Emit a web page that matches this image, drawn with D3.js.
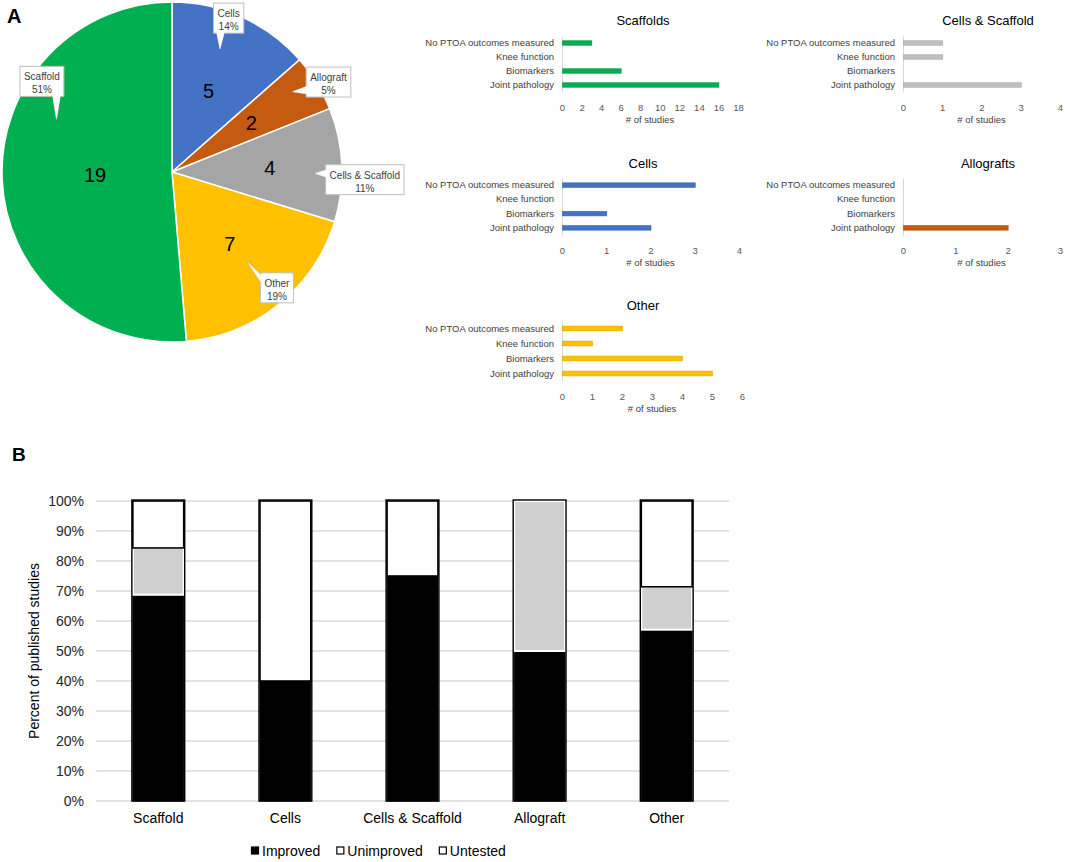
<!DOCTYPE html>
<html>
<head>
<meta charset="utf-8">
<script src="https://cdn.jsdelivr.net/npm/d3@7"></script>
<style>
  body { margin: 0; background: #fff; }
  svg { font-family: Arial, "Liberation Sans", sans-serif; }
</style>
</head>
<body>
<svg id="fig" width="1065" height="862"></svg>
<script>
// ------------------------------
// data
// ------------------------------
var pieCats = ["Cells", "Allograft", "Cells & Scaffold", "Other", "Scaffold"];
var pieCounts = [5, 2, 4, 7, 19];
var pieColors = ["#4472C4", "#C55A11", "#A5A5A5", "#FFC000", "#00B050"];

var outcomeCats = ["No PTOA outcomes measured", "Knee function", "Biomarkers", "Joint pathology"];
var scaffoldsCounts = [3, 0, 6, 16];
var cellsScaffoldCounts = [1, 1, 0, 3];
var cellsCounts = [3, 0, 1, 2];
var allograftCounts = [0, 0, 0, 2];
var otherCounts = [2, 1, 4, 5];

var groups = ["Scaffold", "Cells", "Cells & Scaffold", "Allograft", "Other"];
var improvedPct = [68.75, 40, 75, 50, 57.1];
var unimprovedPct = [15.6, 0, 0, 50, 14.3];
var untestedPct = [15.65, 60, 25, 0, 28.6];
var legendKeys = ["Improved", "Unimproved", "Untested"];

var svg = d3.select("#fig");

// panel letters
svg.append("text").attr("x", 7).attr("y", 23).attr("font-size", 20).attr("font-weight", "bold").text("A");
svg.append("text").attr("x", 12).attr("y", 461).attr("font-size", 19).attr("font-weight", "bold").text("B");

// ==============================
// Pie chart
// ==============================
var cx = 172, cy = 172, radius = 170;
var pieG = svg.append("g").attr("transform", `translate(${cx}, ${cy})`);

var pie = d3.pie().sort(null).value(d => d.value);
var pieData = pie(pieCats.map((c, i) => ({ name: c, value: pieCounts[i], color: pieColors[i] })));
var total = d3.sum(pieCounts);

var arc = d3.arc().innerRadius(0).outerRadius(radius);

pieG.selectAll("path.slice")
  .data(pieData)
  .enter()
  .append("path")
  .attr("class", "slice")
  .attr("d", arc)
  .attr("fill", d => d.data.color)
  .attr("stroke", "#fff")
  .attr("stroke-width", 1.5);

// placement of the labels (degrees offset from slice mid angle, distances from centre)
var calloutLayout = [
  { lr: 89, da: -4, br: 163, tda: -3, tr: 132 },
  { lr: 93, da: 2, br: 180, tda: -2, tr: 145 },
  { lr: 98, da: 5, br: 193, tda: 3, tr: 143 },
  { lr: 92, da: -3, br: 157, tda: -1, tr: 118 },
  { lr: 77, da: 37, br: 158, tda: 27, tr: 127 }
];

function polar(angleRad, r) {
  return [Math.sin(angleRad) * r, -Math.cos(angleRad) * r];
}

// numbers inside slices
pieG.selectAll("text.count")
  .data(pieData)
  .enter()
  .append("text")
  .attr("class", "count")
  .attr("x", (d, i) => polar((d.startAngle + d.endAngle) / 2, calloutLayout[i].lr)[0])
  .attr("y", (d, i) => polar((d.startAngle + d.endAngle) / 2, calloutLayout[i].lr)[1])
  .attr("dy", "0.36em")
  .attr("text-anchor", "middle")
  .attr("font-size", 20)
  .attr("fill", "#000")
  .text(d => d.data.value);

// callouts
pieData.forEach(function(d, i) {
  var lay = calloutLayout[i];
  var mid = (d.startAngle + d.endAngle) / 2;
  var bc = polar(mid + lay.da * Math.PI / 180, lay.br);
  var tip = polar(mid + lay.tda * Math.PI / 180, lay.tr);
  var g = pieG.append("g");

  var t1 = g.append("text").attr("font-size", 10).attr("fill", "#404040").attr("text-anchor", "middle")
    .attr("x", bc[0]).attr("y", bc[1] - 2).text(d.data.name);
  var t2 = g.append("text").attr("font-size", 10).attr("fill", "#404040").attr("text-anchor", "middle")
    .attr("x", bc[0]).attr("y", bc[1] + 11).text(Math.round(d.data.value / total * 100) + "%");
  var w = Math.max(t1.node().getComputedTextLength(), t2.node().getComputedTextLength()) + 8;
  var h = 30;
  var x0 = bc[0] - w / 2, y0 = bc[1] - h / 2 - 1;

  // pick side facing the tip
  var dx = tip[0] - bc[0], dy = tip[1] - bc[1];
  var tri;
  if (Math.abs(dx) / (w / 2) > Math.abs(dy) / (h / 2)) {
    var ex = dx < 0 ? x0 + 1.5 : x0 + w - 1.5;
    var yy = Math.max(y0 + 3, Math.min(y0 + h - 11, tip[1] - 4));
    tri = [[ex, yy], [tip[0], tip[1]], [ex, yy + 8]];
  } else {
    var ey = dy < 0 ? y0 + 1.5 : y0 + h - 1.5;
    var xx = Math.max(x0 + 3, Math.min(x0 + w - 11, tip[0] - 4));
    tri = [[xx, ey], [tip[0], tip[1]], [xx + 8, ey]];
  }
  var line = d3.line();
  g.insert("path", "text").attr("d", line(tri) + "Z").attr("fill", "#fff").attr("stroke", "#bfbfbf");
  g.insert("rect", "text").attr("x", x0).attr("y", y0).attr("width", w).attr("height", h)
    .attr("fill", "#fff").attr("stroke", "#bfbfbf");
  g.insert("path", "text").attr("d", line(tri) + "Z").attr("fill", "#fff");
});

// ==============================
// Small outcome bar charts
// ==============================
var panels = [
  { title: "Scaffolds", counts: scaffoldsCounts, color: "#00B050", x0: 562, w: 176, y0: 36, y1: 92, max: 18, step: 2, titleX: 643, titleY: 25 },
  { title: "Cells & Scaffold", counts: cellsScaffoldCounts, color: "#BFBFBF", x0: 903, w: 157, y0: 36, y1: 92, max: 4, step: 1, titleX: 988, titleY: 25 },
  { title: "Cells", counts: cellsCounts, color: "#4472C4", x0: 562, w: 177, y0: 178, y1: 235, max: 4, step: 1, titleX: 643, titleY: 168 },
  { title: "Allografts", counts: allograftCounts, color: "#C55A11", x0: 903, w: 157, y0: 178, y1: 235, max: 3, step: 1, titleX: 988, titleY: 168 },
  { title: "Other", counts: otherCounts, color: "#FFC000", x0: 562, w: 180, y0: 321, y1: 381, max: 6, step: 1, titleX: 643, titleY: 310 }
];

panels.forEach(function(p) {
  var g = svg.append("g");
  var x = d3.scaleLinear().domain([0, p.max]).range([p.x0, p.x0 + p.w]);
  var y = d3.scaleBand().domain(outcomeCats).range([p.y0, p.y1]).paddingInner(0.68).paddingOuter(0.34);

  g.append("text")
    .attr("x", p.titleX).attr("y", p.titleY)
    .attr("text-anchor", "middle").attr("font-size", 13).attr("fill", "#000")
    .text(p.title);

  // category axis
  var leftAxis = d3.axisLeft(y).tickSize(0).tickPadding(8);
  var ya = g.append("g").attr("transform", `translate(${p.x0}, 0)`).call(leftAxis);
  ya.select(".domain").attr("stroke", "#d9d9d9");
  ya.selectAll("text").attr("font-size", 9.5).attr("fill", "#404040").attr("font-family", "Arial, 'Liberation Sans', sans-serif");

  // value axis (labels only)
  var bottomAxis = d3.axisBottom(x)
    .tickValues(d3.range(0, p.max + 0.001, p.step))
    .tickFormat(d3.format("d"))
    .tickSize(0).tickPadding(0);
  var xa = g.append("g").attr("transform", `translate(0, ${p.y1 + 12})`).call(bottomAxis);
  xa.select(".domain").remove();
  xa.selectAll("text").attr("font-size", 9.5).attr("fill", "#595959").attr("font-family", "Arial, 'Liberation Sans', sans-serif");

  g.append("text")
    .attr("x", p.x0 + p.w / 2).attr("y", p.y1 + 31)
    .attr("text-anchor", "middle").attr("font-size", 9.5).attr("fill", "#404040")
    .text("# of studies");

  g.selectAll("rect.bar")
    .data(p.counts)
    .enter()
    .append("rect")
    .attr("class", "bar")
    .attr("x", x(0) + 0.5)
    .attr("y", (d, i) => y(outcomeCats[i]))
    .attr("width", d => Math.max(0, x(d) - x(0)))
    .attr("height", y.bandwidth())
    .attr("fill", p.color)
    .attr("stroke", d => d > 0 ? d3.color(p.color).darker(0.4) : "none")
    .attr("stroke-width", 0.6);
});

// ==============================
// Stacked percent chart (B)
// ==============================
var bLeft = 96, bRight = 729, bTop = 501, bBottom = 801;

var xBand = d3.scaleBand().domain(groups).range([bLeft, bRight]).paddingInner(0.6).paddingOuter(0.29);
var yPct = d3.scaleLinear().domain([0, 100]).range([bBottom, bTop]);

var bG = svg.append("g");

// gridlines
bG.selectAll("line.grid")
  .data(d3.range(0, 101, 10))
  .enter()
  .append("line")
  .attr("class", "grid")
  .attr("x1", bLeft).attr("x2", bRight)
  .attr("y1", d => yPct(d)).attr("y2", d => yPct(d))
  .attr("stroke", "#d9d9d9").attr("stroke-width", 1.3);

var yAxis = d3.axisLeft(yPct).tickValues(d3.range(0, 101, 10)).tickFormat(d => d + "%").tickSize(0).tickPadding(12);
var yAx = bG.append("g").attr("transform", `translate(${bLeft}, 0)`).call(yAxis);
yAx.select(".domain").remove();
yAx.selectAll("text").attr("font-size", 14).attr("fill", "#262626").attr("font-family", "Arial, 'Liberation Sans', sans-serif");

var xAxis = d3.axisBottom(xBand).tickSize(0).tickPadding(12);
var xAx = bG.append("g").attr("transform", `translate(0, ${bBottom})`).call(xAxis);
xAx.select(".domain").remove();
xAx.selectAll("text").attr("font-size", 14).attr("fill", "#000").attr("font-family", "Arial, 'Liberation Sans', sans-serif");

bG.append("text")
  .attr("transform", "rotate(-90)")
  .attr("x", -(bTop + bBottom) / 2)
  .attr("y", 39)
  .attr("text-anchor", "middle")
  .attr("font-size", 14)
  .attr("fill", "#000")
  .text("Percent of published studies");

var stackRows = groups.map((g, i) => ({ group: g, Improved: improvedPct[i], Unimproved: unimprovedPct[i], Untested: untestedPct[i] }));
var series = d3.stack().keys(legendKeys)(stackRows);

var segStyle = {
  Improved: { fill: "#000", stroke: "#000", sw: 1 },
  Unimproved: { fill: "#d0d0d0", stroke: "#fff", sw: 2 },
  Untested: { fill: "#fff", stroke: "#000", sw: 1.6 }
};

series.forEach(function(s) {
  var st = segStyle[s.key];
  bG.selectAll(null)
    .data(s.filter(d => d[1] - d[0] > 0))
    .enter()
    .append("rect")
    .attr("x", d => xBand(d.data.group))
    .attr("y", d => yPct(d[1]))
    .attr("width", xBand.bandwidth())
    .attr("height", d => yPct(d[0]) - yPct(d[1]))
    .attr("fill", st.fill)
    .attr("stroke", st.stroke)
    .attr("stroke-width", st.sw);
});

// outline of whole bar
bG.selectAll("rect.outline")
  .data(stackRows)
  .enter()
  .append("rect")
  .attr("class", "outline")
  .attr("x", d => xBand(d.group) - 1)
  .attr("y", d => yPct(d.Improved + d.Unimproved + d.Untested) - 1)
  .attr("width", xBand.bandwidth() + 2)
  .attr("height", d => yPct(0) - yPct(d.Improved + d.Unimproved + d.Untested) + 1)
  .attr("fill", "none")
  .attr("stroke", "#000")
  .attr("stroke-width", 1.4);

// legend
var legend = bG.append("g");
var lx = 251;
legendKeys.forEach(function(k, i) {
  var item = legend.append("g").attr("transform", `translate(${lx}, 851)`);
  item.append("rect")
    .attr("x", 0.5).attr("y", -4).attr("width", 7).attr("height", 7)
    .attr("fill", k === "Improved" ? "#000" : "#fff")
    .attr("stroke", "#000").attr("stroke-width", 1.2);
  var t = item.append("text")
    .attr("x", 11).attr("y", 5)
    .attr("font-size", 14).attr("fill", "#000")
    .text(k);
  lx += 11 + t.node().getComputedTextLength() + 16;
});
</script>
</body>
</html>
